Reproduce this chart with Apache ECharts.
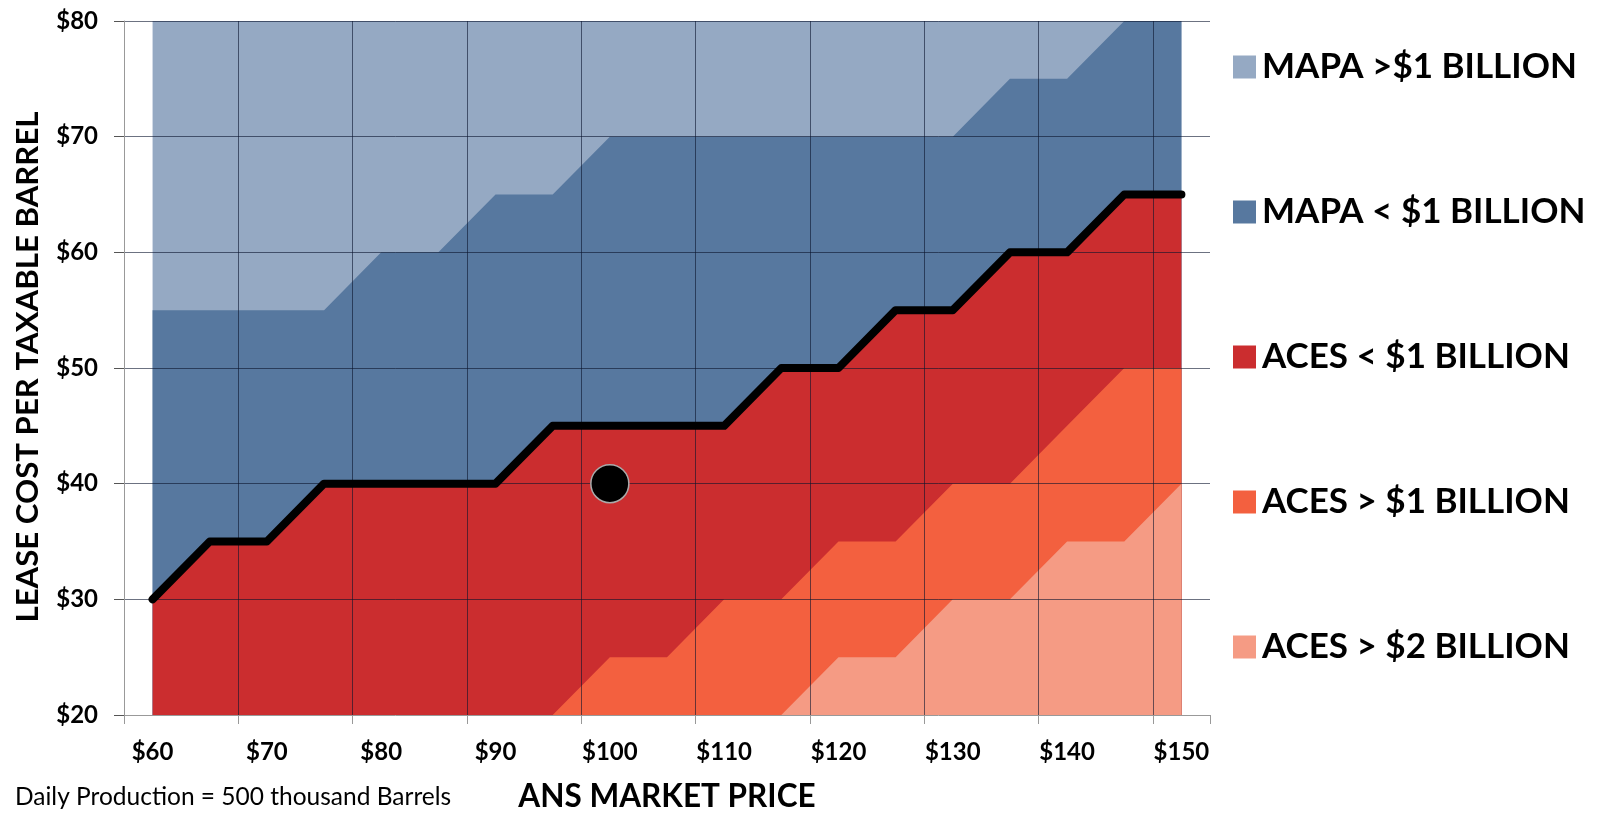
<!DOCTYPE html>
<html>
<head>
<meta charset="utf-8">
<script src="https://cdn.jsdelivr.net/npm/echarts@6/dist/echarts.min.js"></script>
<style>
html,body{margin:0;padding:0;background:#fff;}
#chart{width:1597px;height:816px;}
</style>
</head>
<body>
<div id="chart"></div>
<script>
// ANS market price categories ($/barrel)
var prices = [60, 65, 70, 75, 80, 85, 90, 95, 100, 105, 110, 115, 120, 125, 130, 135, 140, 145, 150];
// Upper edge of each zone (lease cost per taxable barrel, $)
var mapaHighTop = [80, 80, 80, 80, 80, 80, 80, 80, 80, 80, 80, 80, 80, 80, 80, 80, 80, 80, 80];
var mapaLowTop  = [55, 55, 55, 55, 60, 60, 65, 65, 70, 70, 70, 70, 70, 70, 70, 75, 75, 80, 80];
var acesLowTop  = [30, 35, 35, 40, 40, 40, 40, 45, 45, 45, 45, 50, 50, 55, 55, 60, 60, 65, 65];
var acesHighTop = [20, 20, 20, 20, 20, 20, 20, 20, 25, 25, 30, 30, 35, 35, 40, 40, 45, 50, 50];
var aces2Top    = [20, 20, 20, 20, 20, 20, 20, 20, 20, 20, 20, 20, 25, 25, 30, 30, 35, 35, 40];
// Marked point
var pointPrice = 100;
var pointCost = 40;
// Axis ticks
var yMin = 20, yMax = 80, yStep = 10;

var names = ['MAPA >$1 BILLION', 'MAPA < $1 BILLION', 'ACES < $1 BILLION', 'ACES > $1 BILLION', 'ACES > $2 BILLION'];
var colors = ['#95A9C3', '#57789F', '#CB2D2F', '#F3603F', '#F59B84'];
var tops = [mapaHighTop, mapaLowTop, acesLowTop, acesHighTop, aces2Top];
var cats = prices.map(function (p) { return '$' + p; });

var FONT = 'Lato';
var series = names.map(function (n, i) {
  return {
    name: n, type: 'line', data: tops[i], symbol: 'none', z: 2,
    color: colors[i],
    itemStyle: { color: colors[i] },
    lineStyle: { width: 0, color: colors[i] },
    areaStyle: { color: colors[i], opacity: 1, origin: 'start' },
    silent: true, animation: false
  };
});
series.push({
  name: 'boundary', type: 'line', data: acesLowTop, symbol: 'none', z: 5,
  lineStyle: { color: '#000', width: 8, cap: 'round', join: 'round' },
  silent: true, animation: false
});
series.push({
  name: 'point', type: 'scatter', z: 6, symbolSize: 38,
  data: [['$' + pointPrice, pointCost]],
  itemStyle: { color: '#000', borderColor: '#aaa', borderWidth: 1.5, opacity: 1 },
  silent: true, animation: false
});

var chart = echarts.init(document.getElementById('chart'));
chart.setOption({
  animation: false,
  backgroundColor: '#fff',
  grid: { left: 124, right: 387, top: 21, bottom: 101, containLabel: false },
  xAxis: {
    type: 'category', data: cats, boundaryGap: true, z: 3,
    axisLine: { show: true, lineStyle: { color: '#999', width: 1 } },
    axisTick: { show: true, interval: 1, length: 9, lineStyle: { color: '#999' } },
    axisLabel: { interval: 1, margin: 25, fontFamily: FONT, fontWeight: 'bold', fontSize: 24, color: '#000' },
    splitLine: { show: true, interval: 1, showMinLine: false, showMaxLine: false,
      lineStyle: { color: 'rgba(10,20,45,0.6)', width: 1 } }
  },
  yAxis: {
    type: 'value', min: yMin, max: yMax, interval: yStep, z: 3,
    axisLine: { show: true, lineStyle: { color: '#999', width: 1 } },
    axisTick: { show: true, length: 10, lineStyle: { color: '#555' } },
    axisLabel: { margin: 26, formatter: function (v) { return '$' + v; },
      fontFamily: FONT, fontWeight: 'bold', fontSize: 24, color: '#000' },
    splitLine: { show: true, showMinLine: false, lineStyle: { color: 'rgba(10,20,45,0.6)', width: 1 } }
  },
  legend: {
    orient: 'vertical', left: 1228, top: 42, itemWidth: 23, itemHeight: 23, itemGap: 105,
    icon: 'rect', selectedMode: false, data: names,
    textStyle: { fontFamily: FONT, fontWeight: 'bold', fontSize: 35, color: '#000', lineHeight: 40, padding: [0, 0, 0, 1] }
  },
  graphic: [
    { type: 'text', x: 15, y: 797, silent: true,
      style: { text: 'Daily Production = 500 thousand Barrels', fontFamily: FONT, fontSize: 24.5, fontWeight: 'normal',
        fill: '#000', align: 'left', verticalAlign: 'middle' } },
    { type: 'text', x: 667, y: 797, silent: true,
      style: { text: 'ANS MARKET PRICE', fontFamily: FONT, fontSize: 31.5, fontWeight: 'bold',
        fill: '#000', align: 'center', verticalAlign: 'middle' } },
    { type: 'text', x: 28, y: 367, rotation: Math.PI / 2, silent: true,
      style: { text: 'LEASE COST PER TAXABLE BARREL', fontFamily: FONT, fontSize: 31.2, fontWeight: 'bold',
        fill: '#000', align: 'center', verticalAlign: 'middle' } }
  ],
  series: series
});
</script>
</body>
</html>
